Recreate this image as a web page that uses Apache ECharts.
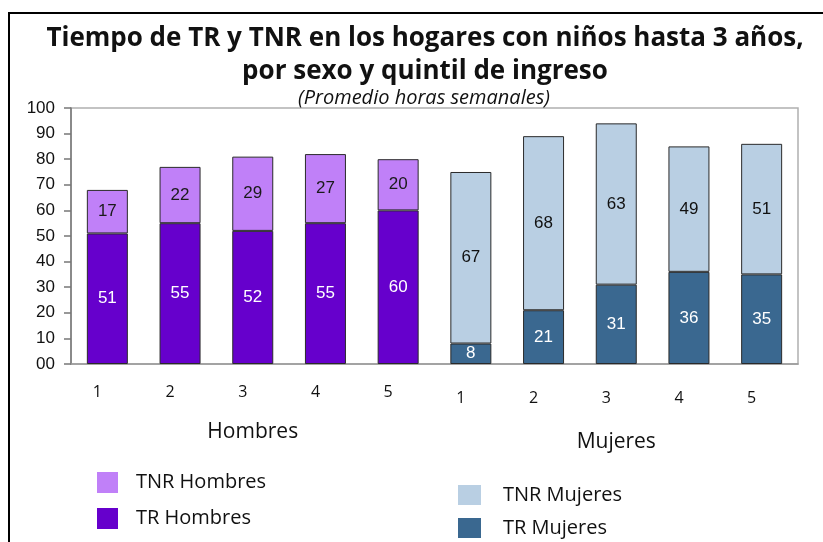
<!DOCTYPE html>
<html>
<head>
<meta charset="utf-8">
<script src="https://cdn.jsdelivr.net/npm/echarts@6/dist/echarts.min.js"></script>
<style>
html,body{margin:0;padding:0;background:#fff;}
#chart{width:823px;height:542px;}
</style>
</head>
<body>
<div id="chart"></div>
<script>
// ---- data ----
const quintiles = ['1', '2', '3', '4', '5'];
const groups = ['Hombres', 'Mujeres'];
const trHombres = [51, 55, 52, 55, 60];
const tnrHombres = [17, 22, 29, 27, 20];
const trMujeres = [8, 21, 31, 36, 35];
const tnrMujeres = [67, 68, 63, 49, 51];
const titleText = 'Tiempo de TR y TNR en los hogares con niños hasta 3 años,\npor sexo y quintil de ingreso';
const subtitleText = '(Promedio horas semanales)';

const blank = ['-', '-', '-', '-', '-'];
const categories = quintiles.concat(quintiles);
const fontGeo = '"Open Sans", "Noto Sans", sans-serif';
const fontArial = '"Liberation Sans", Arial, sans-serif';

function barSeries(name, data, color, labelColor) {
  return {
    name: name,
    type: 'bar',
    stack: 'total',
    barWidth: 41,
    data: data,
    itemStyle: { color: color, borderColor: '#2a2a2a', borderWidth: 1 },
    label: {
      show: true,
      position: 'inside',
      color: labelColor,
      fontFamily: fontArial,
      fontSize: 17
    },
    emphasis: { disabled: true }
  };
}

const chart = echarts.init(document.getElementById('chart'));
chart.setOption({
  animation: false,
  backgroundColor: '#fff',
  graphic: [
    {
      type: 'rect',
      silent: true,
      shape: { x: 9, y: 13, width: 900, height: 600 },
      style: { fill: 'none', stroke: '#000', lineWidth: 2 }
    },
    {
      type: 'text',
      silent: true,
      x: 425,
      y: 22,
      style: {
        text: titleText,
        align: 'center',
        verticalAlign: 'top',
        fontFamily: fontGeo,
        fontWeight: 'bold',
        fontSize: 26,
        lineHeight: 33,
        fill: '#111'
      }
    },
    {
      type: 'text',
      silent: true,
      x: 424,
      y: 88,
      style: {
        text: subtitleText,
        align: 'center',
        verticalAlign: 'top',
        fontFamily: fontGeo,
        fontStyle: 'italic',
        fontSize: 20,
        fill: '#111'
      }
    }
  ],
  legend: [
    {
      left: 97,
      top: 472,
      padding: 0,
      orient: 'vertical',
      itemWidth: 21,
      itemHeight: 21,
      itemGap: 15,
      icon: 'rect',
      data: ['TNR Hombres', 'TR Hombres'],
      textStyle: { fontFamily: fontGeo, fontSize: 20, color: '#111', padding: [0, 0, 0, 13] },
      itemStyle: { borderWidth: 0 }
    },
    {
      left: 458,
      top: 485,
      padding: 0,
      orient: 'vertical',
      itemWidth: 23,
      itemHeight: 20,
      itemGap: 13,
      icon: 'rect',
      data: ['TNR Mujeres', 'TR Mujeres'],
      textStyle: { fontFamily: fontGeo, fontSize: 20, color: '#111', padding: [0, 0, 0, 17] },
      itemStyle: { borderWidth: 0 }
    }
  ],
  grid: {
    left: 71,
    right: 25,
    top: 108,
    bottom: 178,
    show: true,
    borderColor: '#b0b0b0',
    borderWidth: 1.5,
    containLabel: false
  },
  xAxis: [
    {
      type: 'category',
      data: categories,
      axisLine: { show: true, lineStyle: { color: '#999', width: 1.5 } },
      axisTick: { show: false },
      axisLabel: {
        margin: 20,
        interval: 0,
        formatter: function (v, i) {
          return i < 5 ? '{h|' + v + '}' : '{m|' + v + '}';
        },
        rich: {
          h: { fontFamily: fontGeo, fontSize: 16, color: '#111', padding: [0, 20, 0, 0] },
          m: { fontFamily: fontGeo, fontSize: 16, color: '#111', padding: [6, 20, 0, 0] }
        }
      }
    },
    {
      type: 'category',
      data: groups,
      position: 'bottom',
      axisLine: { show: false },
      axisTick: { show: false },
      axisLabel: {
        margin: 58,
        interval: 0,
        formatter: function (v, i) {
          return i === 0 ? '{h|' + v + '}' : '{m|' + v + '}';
        },
        rich: {
          h: { fontFamily: fontGeo, fontSize: 21, color: '#111', padding: [0, 0, 0, 0] },
          m: { fontFamily: fontGeo, fontSize: 21, color: '#111', padding: [10, 0, 0, 0] }
        }
      }
    }
  ],
  yAxis: {
    type: 'value',
    min: 0,
    max: 100,
    interval: 10,
    axisLine: { show: true, lineStyle: { color: '#777', width: 1.5 } },
    axisTick: { show: true, length: 7, lineStyle: { color: '#777', width: 1.5 } },
    splitLine: { show: false },
    axisLabel: {
      margin: 16,
      fontFamily: fontArial,
      fontSize: 17,
      color: '#111',
      formatter: function (v) { return v === 0 ? '00' : String(v); }
    }
  },
  series: [
    barSeries('TR Hombres', trHombres.concat(blank), '#6600cc', '#ffffff'),
    barSeries('TNR Hombres', tnrHombres.concat(blank), '#c080f8', '#1a1a1a'),
    barSeries('TR Mujeres', blank.concat(trMujeres), '#3a6890', '#ffffff'),
    barSeries('TNR Mujeres', blank.concat(tnrMujeres), '#b9cfe3', '#111111')
  ]
});
</script>
</body>
</html>
